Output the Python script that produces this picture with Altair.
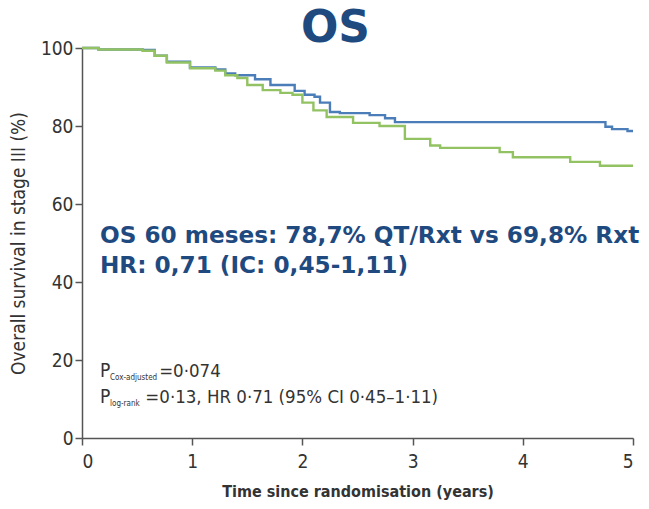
import altair as alt
import pandas as pd

# Kaplan-Meier step curves (years, % surviving)
qt_time = [0.0, 0.15, 0.55, 0.66, 0.77, 0.98, 1.21, 1.30, 1.39, 1.57, 1.71, 1.93, 2.02, 2.11, 2.16, 2.25, 2.34, 2.61, 2.75, 2.84, 4.75, 4.81, 4.95, 5.0]
qt_surv = [100, 99.6, 99.5, 98.0, 96.5, 95.0, 94.5, 93.5, 93.0, 92.0, 90.5, 89.0, 88.0, 87.5, 86.0, 83.6, 83.3, 82.8, 82.0, 81.0, 79.8, 79.2, 78.7, 78.7]

rt_time = [0.0, 0.15, 0.55, 0.66, 0.77, 0.98, 1.21, 1.30, 1.41, 1.50, 1.64, 1.80, 1.91, 2.00, 2.10, 2.22, 2.46, 2.70, 2.93, 3.16, 3.25, 3.79, 3.91, 4.43, 4.70, 5.0]
rt_surv = [100, 99.6, 99.3, 98.0, 96.3, 94.8, 94.2, 93.0, 92.3, 90.5, 89.2, 88.5, 88.0, 86.0, 84.0, 82.3, 80.8, 80.0, 76.7, 75.0, 74.4, 73.3, 72.0, 70.8, 69.8, 69.8]

series_names = ["QT/Rxt", "Rxt"]
series_colors = ["#4b7db8", "#93c262"]

x_ticks = [0, 1, 2, 3, 4, 5]
y_ticks = [0, 20, 40, 60, 80, 100]

title_text = "OS"
summary_lines = ["OS 60 meses: 78,7% QT/Rxt vs 69,8% Rxt", "HR: 0,71 (IC: 0,45-1,11)"]
summary_x = [0.163, 0.163]
summary_y = [50.0, 42.3]

p_main = ["P", "P"]
p_sub = ["Cox-adjusted", "log-rank"]
p_rest = ["=0·074", "=0·13, HR 0·71 (95% CI 0·45–1·11)"]
p_y = [15.6, 8.9]
p_x = [0.163, 0.163]
p_sub_x = [0.254, 0.254]
p_rest_x = [0.70, 0.575]

curves = pd.concat([
    pd.DataFrame({"t": qt_time, "s": qt_surv, "arm": series_names[0]}),
    pd.DataFrame({"t": rt_time, "s": rt_surv, "arm": series_names[1]}),
])

NARROW = "Liberation Sans Narrow, DejaVu Sans Condensed, Liberation Sans, sans-serif"
DARKBLUE = "#1f4a80"

xs = alt.Scale(domain=[0, 5], nice=False)
ys = alt.Scale(domain=[0, 100], nice=False)

lines = alt.Chart(curves).mark_line(interpolate="step-after", strokeWidth=2.4).encode(
    x=alt.X("t:Q", scale=xs, axis=alt.Axis(
        values=x_ticks, title="Time since randomisation (years)", format="d",
        grid=False, domainColor="#555", domainWidth=1.5, tickColor="#555", tickWidth=1.5,
        tickSize=7, labelFont=NARROW, labelFontSize=19, labelColor="#333", labelPadding=7,
        titleFont=NARROW, titleFontSize=16, titleFontWeight="bold", titleColor="#333", titlePadding=12)),
    y=alt.Y("s:Q", scale=ys, axis=alt.Axis(
        values=y_ticks, title="Overall survival in stage III  (%)", format="d",
        grid=False, domainColor="#555", domainWidth=1.5, tickColor="#555", tickWidth=1.5,
        tickSize=7, labelFont=NARROW, labelFontSize=19, labelColor="#333", labelPadding=2,
        titleFont=NARROW, titleFontSize=19, titleFontWeight="normal", titleColor="#333", titlePadding=12)),
    color=alt.Color("arm:N", scale=alt.Scale(domain=series_names, range=series_colors), legend=None),
)

summ = alt.Chart(pd.DataFrame({"x": summary_x, "y": summary_y, "txt": summary_lines})).mark_text(
    align="left", baseline="alphabetic", font="DejaVu Sans", fontWeight="bold", fontSize=23.2, color=DARKBLUE
).encode(x=alt.X("x:Q", scale=xs), y=alt.Y("y:Q", scale=ys), text="txt:N")

pdf = pd.DataFrame({"x": p_x, "xs": p_sub_x, "xr": p_rest_x, "y": p_y,
                    "main": p_main, "sub": p_sub, "rest": p_rest})
pmain = alt.Chart(pdf).mark_text(align="left", baseline="alphabetic", font=NARROW, fontSize=19, color="#333").encode(
    x=alt.X("x:Q", scale=xs), y=alt.Y("y:Q", scale=ys), text="main:N")
psub = alt.Chart(pdf).mark_text(align="left", baseline="alphabetic", font=NARROW, fontSize=8, color="#333", dy=3).encode(
    x=alt.X("xs:Q", scale=xs), y=alt.Y("y:Q", scale=ys), text="sub:N")
prest = alt.Chart(pdf).mark_text(align="left", baseline="alphabetic", font=NARROW, fontSize=18.5, color="#333").encode(
    x=alt.X("xr:Q", scale=xs), y=alt.Y("y:Q", scale=ys), text="rest:N")

chart = alt.layer(lines, summ, pmain, psub, prest).properties(
    width=551, height=390,
    background="white",
    title=alt.TitleParams(title_text, fontSize=44, font="DejaVu Sans", fontWeight="bold", color=DARKBLUE,
                          anchor="middle", dx=-22, offset=-12),
    autosize=alt.AutoSizeParams(type="none"),
    padding={"left": 82, "top": 48, "right": 16, "bottom": 71},
).configure_view(strokeWidth=0, stroke="transparent")

chart.save("out.html", embed_options={"renderer": "svg", "actions": False})
